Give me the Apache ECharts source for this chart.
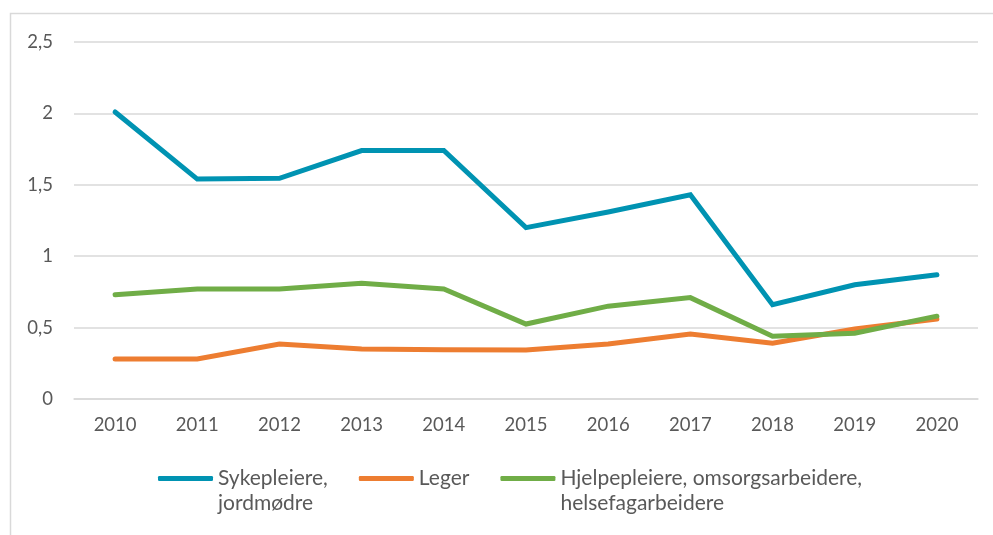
<!DOCTYPE html>
<html>
<head>
<meta charset="utf-8">
<script src="https://cdn.jsdelivr.net/npm/echarts@6/dist/echarts.min.js"></script>
<style>
html, body { margin:0; padding:0; background:#fff; }
#view1 { width:993px; height:535px; }
</style>
</head>
<body>
<div id="view1"></div>
<script>
"use strict";
var years = ['2010','2011','2012','2013','2014','2015','2016','2017','2018','2019','2020'];
var sykepleiere = [2.01, 1.54, 1.545, 1.74, 1.74, 1.20, 1.31, 1.43, 0.66, 0.80, 0.87];
var leger = [0.28, 0.28, 0.385, 0.35, 0.345, 0.343, 0.385, 0.455, 0.39, 0.49, 0.56];
var hjelpepleiere = [0.73, 0.77, 0.77, 0.81, 0.77, 0.525, 0.65, 0.71, 0.44, 0.46, 0.58];
var names = ['Sykepleiere,\njordmødre', 'Leger', 'Hjelpepleiere, omsorgsarbeidere,\nhelsefagarbeidere'];
var colors = ['#0093b2', '#ed7d31', '#70ad47'];
var yTicks = [0, 0.5, 1, 1.5, 2, 2.5];

var font = 'Lato';
function fmt(v){ return String(v).replace('.', ','); }

var series = [sykepleiere, leger, hjelpepleiere].map(function(d, i){
	return { name:names[i], type:'line', data:d, symbol:'none', smooth:false,
		lineStyle:{ width:5, color:colors[i], cap:'round', join:'miter' },
		itemStyle:{ color:colors[i] } };
});

var option = {
	animation:false,
	color:colors,
	graphic:[{ type:'rect', shape:{ x:10.5, y:13.5, width:1000, height:600 },
		style:{ fill:'none', stroke:'#d9d9d9', lineWidth:1.5 }, silent:true }],
	grid:{ left:74, right:15, top:42, bottom:136 },
	legend:{
		bottom:14, left:153, itemWidth:55, itemHeight:5, itemGap:31,
		icon:'roundRect',
		// blank line on top so the icon lines up with the first text line
		formatter:function(n){ return n.indexOf('\n') < 0 ? n : ' \n' + n; },
		textStyle:{ fontFamily:font, fontSize:21, color:'#595959', lineHeight:25 },
		data:names
	},
	xAxis:{ type:'category', data:years, boundaryGap:true,
		axisLine:{ show:true, lineStyle:{ color:'#d9d9d9', width:1.5 } },
		axisTick:{ show:false },
		axisLabel:{ fontFamily:font, fontSize:18.5, color:'#595959', margin:17 } },
	yAxis:{ type:'value', min:yTicks[0], max:yTicks[yTicks.length-1], interval:0.5,
		axisLine:{ show:false }, axisTick:{ show:false },
		splitLine:{ lineStyle:{ color:'#d9d9d9', width:1.5 } },
		axisLabel:{ fontFamily:font, fontSize:18.5, color:'#595959', margin:21, formatter:fmt } },
	series:series
};
echarts.init(document.getElementById('view1')).setOption(option);
</script>
</body>
</html>
